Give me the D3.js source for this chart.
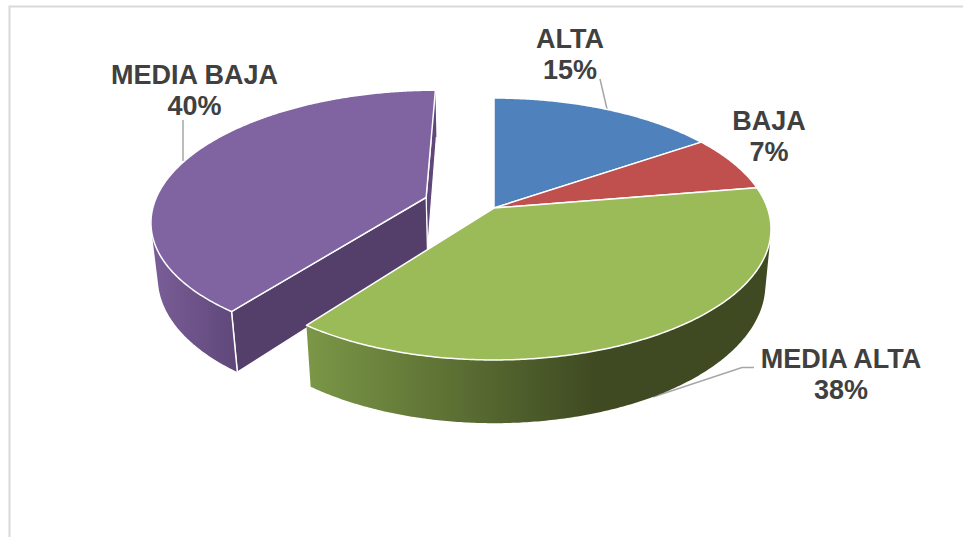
<!DOCTYPE html>
<html>
<head>
<meta charset="utf-8">
<style>
  html, body { margin: 0; padding: 0; background: #fff; }
  svg { display: block; }
  text { font-family: "Liberation Sans", Arial, sans-serif; font-weight: bold; font-size: 27px; fill: #404040; text-anchor: middle; }
</style>
<script src="https://d3js.org/d3.v7.min.js"></script>
</head>
<body>
<svg id="chart" width="963" height="537"></svg>
<script>
// data (printed labels are rounded)
var categories = ['ALTA', 'BAJA', 'MEDIA ALTA', 'MEDIA BAJA'];
var values = [15.49, 6.9, 37.81, 39.8];
var topColors = ['#4f81bd', '#c0504d', '#9bbb59', '#8064a2'];
var exploded = [0, 0, 0, 0.265];

// label anchors and leader lines, same order as categories
var labelX = [570, 769, 841, 194.5];
var labelY = [48, 130, 368, 84];
var leaders = [
  [[600, 79], [607, 109]],
  [],
  [[754, 367.5], [742, 367.5], [653, 397]],
  [[183, 120], [183, 161]]
];

// perspective pie: unit disc -> screen
var view = { cx: 494, cy: 208, a: 273.4, b: 127.6, k: 0.1603, depth: 55.5, bottomB: 129.5, bottomW: 0.02 };

function project(X, Y, bottom) {
  var w = 1 + view.k * -Y + (bottom ? view.bottomW : 0);
  var yy = bottom ? view.bottomB * Y + view.depth : view.b * Y;
  return [view.cx + view.a * X / w, view.cy + yy / w];
}

var svg = d3.select('#chart');
var defs = svg.append('defs');

function hGradient(id, x1, x2, stops) {
  var g = defs.append('linearGradient').attr('id', id)
    .attr('gradientUnits', 'userSpaceOnUse')
    .attr('x1', x1).attr('x2', x2).attr('y1', 0).attr('y2', 0);
  stops.forEach(function (s) {
    g.append('stop').attr('offset', s[0]).attr('stop-color', s[1]);
  });
}
hGradient('sideGreen', 310, 595, [[0, '#7a9646'], [1, '#3f4a22']]);
hGradient('sidePurple', 152, 238, [[0, '#7a5e98'], [1, '#5f4779']]);
var sideFills = ['#3a5a80', '#803432', 'url(#sideGreen)', 'url(#sidePurple)'];

// frame of the chart area, only top and left are in the picture
svg.append('path')
  .attr('d', 'M9.5,537V6.5H963')
  .attr('fill', 'none').attr('stroke', '#d9d9d9').attr('stroke-width', 2);

// leaders
var line = d3.line();
svg.append('g').selectAll('path')
  .data(leaders.filter(function (l) { return l.length; }))
  .enter().append('path')
  .attr('d', line)
  .attr('fill', 'none').attr('stroke', '#a6a6a6').attr('stroke-width', 1.5);

var arcs = d3.pie().sort(null)(values);

var slices = arcs.map(function (d, i) {
  var mid = (d.startAngle + d.endAngle) / 2;
  var off = exploded[i];
  var ox = off * Math.sin(mid);
  var oy = -off * Math.cos(mid);
  var rim = d3.range(d.startAngle, d.endAngle, Math.PI / 360).concat([d.endAngle]).map(function (t) {
    return [ox + Math.sin(t), oy - Math.cos(t)];
  });
  return { i: i, apex: [ox, oy], rim: rim };
});

function pts(list, bottom) {
  return list.map(function (p) { return project(p[0], p[1], bottom); });
}

function poly(parent, points, fill, strokeW) {
  return parent.append('path')
    .attr('d', line(points) + 'Z')
    .attr('fill', fill)
    .attr('stroke', strokeW ? '#fff' : 'none')
    .attr('stroke-width', strokeW || 0)
    .attr('stroke-linejoin', 'round');
}

// outer wall as one path of small quads, all wound the same way so the
// silhouette stays filled where the top and bottom rims cross
function wall(parent, rim, fill) {
  var top = pts(rim);
  var bot = pts(rim, true);
  var d = '';
  d3.pairs(d3.range(rim.length)).forEach(function (p) {
    var q = [top[p[0]], top[p[1]], bot[p[1]], bot[p[0]]];
    if (d3.polygonArea(q) < 0) q.reverse();
    d += line(q) + 'Z';
  });
  parent.append('path').attr('d', d).attr('fill', fill);
}

var pie = svg.append('g');

// exploded slices first, the rest of the pie sits in front of them
var order = slices.slice().sort(function (a, b) { return exploded[b.i] - exploded[a.i]; });

order.forEach(function (s) {
  var g = pie.append('g');
  var first = s.rim[0];
  var last = s.rim[s.rim.length - 1];
  if (exploded[s.i]) {
    // cut faces are only visible on the slice pulled out
    poly(g, pts([s.apex, last]).concat(pts([last, s.apex], true)), '#5f4779', 1.2);
    poly(g, pts([s.apex, first]).concat(pts([first, s.apex], true)), '#533f69', 1.2);
  }
  wall(g, s.rim, sideFills[s.i]);
  if (exploded[s.i]) {
    var a = project(first[0], first[1]);
    var b = project(first[0], first[1], true);
    g.append('line').attr('x1', a[0]).attr('y1', a[1]).attr('x2', b[0]).attr('y2', b[1])
      .attr('stroke', '#fff').attr('stroke-width', 1.5);
  }
  s.g = g;
});

// top faces over all the sides of their own slice
order.forEach(function (s) {
  poly(s.g, pts([s.apex].concat(s.rim)), topColors[s.i], 1.5);
});

// labels
var labels = svg.append('g').selectAll('text')
  .data(categories)
  .enter().append('text')
  .attr('x', function (d, i) { return labelX[i]; })
  .attr('y', function (d, i) { return labelY[i]; });
labels.append('tspan').text(function (d) { return d; });
labels.append('tspan')
  .attr('x', function (d, i) { return labelX[i]; })
  .attr('dy', 31)
  .text(function (d, i) { return Math.round(values[i]) + '%'; });
</script>
</body>
</html>
